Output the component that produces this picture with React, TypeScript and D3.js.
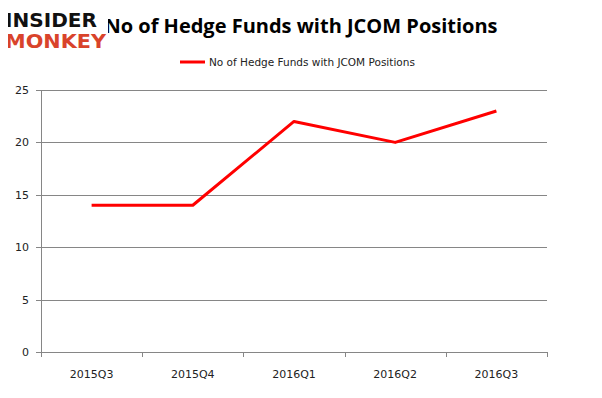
import * as React from "react";
import * as d3 from "d3";

const quarters = ["2015Q3", "2015Q4", "2016Q1", "2016Q2", "2016Q3"];
const funds = [14, 14, 22, 20, 23];
const yTicks = [0, 5, 10, 15, 20, 25];
const seriesName = "No of Hedge Funds with JCOM Positions";

function drawChart(svgRef: React.RefObject<SVGSVGElement | null>) {
  const width = 602;
  const height = 398;
  const margin = { top: 90, right: 55, bottom: 46, left: 41 };

  const svg = d3.select(svgRef.current).attr("width", width).attr("height", height);
  svg.selectAll("*").remove();

  svg
    .append("rect")
    .attr("x", 0.5)
    .attr("y", 0.5)
    .attr("width", width - 2)
    .attr("height", height - 2)
    .attr("fill", "#fff")
    .attr("stroke", "#7f7f7f");

  const x = d3
    .scaleBand()
    .domain(quarters)
    .range([margin.left, width - margin.right]);
  const y = d3
    .scaleLinear()
    .domain([0, 25])
    .range([height - margin.bottom, margin.top]);

  svg
    .append("g")
    .selectAll("line")
    .data(yTicks)
    .enter()
    .append("line")
    .attr("x1", margin.left - 5)
    .attr("x2", width - margin.right)
    .attr("y1", (d) => Math.round(y(d)) + 0.5)
    .attr("y2", (d) => Math.round(y(d)) + 0.5)
    .attr("stroke", "#868686");

  // y axis line
  svg
    .append("line")
    .attr("x1", margin.left + 0.5)
    .attr("x2", margin.left + 0.5)
    .attr("y1", margin.top)
    .attr("y2", height - margin.bottom)
    .attr("stroke", "#868686");

  // x axis ticks at band edges
  const xTickPos = quarters.map((q) => x(q) as number).concat([width - margin.right]);
  svg
    .append("g")
    .selectAll("line")
    .data(xTickPos)
    .enter()
    .append("line")
    .attr("x1", (d) => Math.round(d) + 0.5)
    .attr("x2", (d) => Math.round(d) + 0.5)
    .attr("y1", height - margin.bottom)
    .attr("y2", height - margin.bottom + 5)
    .attr("stroke", "#868686");

  svg
    .append("g")
    .selectAll("text")
    .data(yTicks)
    .enter()
    .append("text")
    .text((d) => d)
    .attr("x", margin.left - 12)
    .attr("y", (d) => y(d) + 4)
    .attr("text-anchor", "end")
    .attr("font-family", "DejaVu Sans, sans-serif")
    .attr("font-size", 11)
    .attr("fill", "#222");

  svg
    .append("g")
    .selectAll("text")
    .data(quarters)
    .enter()
    .append("text")
    .text((d) => d)
    .attr("x", (d) => (x(d) as number) + x.bandwidth() / 2)
    .attr("y", height - margin.bottom + 26)
    .attr("text-anchor", "middle")
    .attr("font-family", "DejaVu Sans, sans-serif")
    .attr("font-size", 11)
    .attr("fill", "#222");

  const line = d3
    .line<number>()
    .x((d, i) => (x(quarters[i]) as number) + x.bandwidth() / 2)
    .y((d) => y(d));

  svg
    .append("path")
    .datum(funds)
    .attr("d", line)
    .attr("fill", "none")
    .attr("stroke", "#ff0000")
    .attr("stroke-width", 3)
    .attr("stroke-linejoin", "round");

  // title
  svg
    .append("text")
    .text(seriesName)
    .attr("x", 301)
    .attr("y", 33)
    .attr("text-anchor", "middle")
    .attr("font-family", "Open Sans, sans-serif")
    .attr("font-weight", "bold")
    .attr("font-size", 20)
    .attr("fill", "#000");

  // legend
  svg
    .append("line")
    .attr("x1", 180)
    .attr("x2", 205)
    .attr("y1", 62)
    .attr("y2", 62)
    .attr("stroke", "#ff0000")
    .attr("stroke-width", 3);
  svg
    .append("text")
    .text(seriesName)
    .attr("x", 209)
    .attr("y", 66)
    .attr("font-family", "DejaVu Sans, sans-serif")
    .attr("font-size", 10.5)
    .attr("fill", "#222");

  // logo
  const logo = svg.append("g").attr("font-family", "DejaVu Sans, sans-serif").attr("font-weight", "bold");
  logo
    .append("rect")
    .attr("x", 4)
    .attr("y", 8)
    .attr("width", 104)
    .attr("height", 44)
    .attr("fill", "#fff");
  logo
    .append("text")
    .text("INSIDER")
    .attr("x", 5)
    .attr("y", 27)
    .attr("font-size", 19)
    .attr("textLength", 92)
    .attr("lengthAdjust", "spacingAndGlyphs")
    .attr("fill", "#111");
  logo
    .append("text")
    .text("MONKEY")
    .attr("x", 5)
    .attr("y", 48)
    .attr("font-size", 19)
    .attr("textLength", 101)
    .attr("lengthAdjust", "spacingAndGlyphs")
    .attr("fill", "#d9432b");
}

const App = () => {
  const svgRef = React.useRef<SVGSVGElement>(null);

  React.useEffect(() => {
    drawChart(svgRef);
  }, [svgRef]);

  return (
    <div style={{ margin: -8 }}>
      <svg ref={svgRef} style={{ display: "block" }} />
    </div>
  );
};

export default App;
